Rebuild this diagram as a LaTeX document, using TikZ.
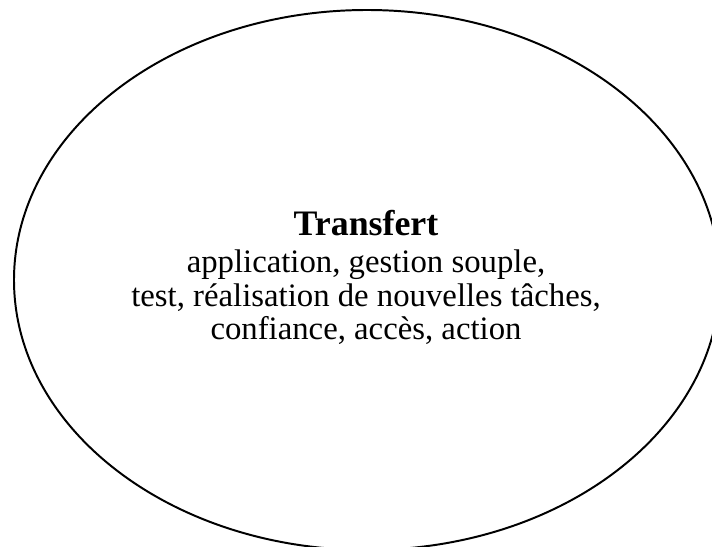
\documentclass[tikz,border=0pt]{standalone}
\usepackage{fontspec}
\setmainfont{Liberation Serif}
\usepackage{tikz}
\usetikzlibrary{shapes.geometric,positioning}
\tikzset{
  zone/.style  = { ellipse, draw=black, line width=1.4pt, inner sep=0pt },
  titre/.style = { font=\fontsize{25.5}{30}\selectfont\bfseries },
  liste/.style = { font=\fontsize{23.3}{23.9}\selectfont, align=center }
}
\begin{document}
\begin{tikzpicture}
  \useasboundingbox (0,0) rectangle (17.8,13.675);
  % Draw the ellipse
  \node[zone, minimum width=17.65cm, minimum height=13.5cm] (transfert) at (9.175,6.675) {};

  % Draw labels
  \node[titre] (titre) at (9.15,8.1) {Transfert};
  \node[liste, below=0.1cm of titre] (liste) {application, gestion souple,\\
    test, réalisation de nouvelles tâches,\\
    confiance, accès, action};
\end{tikzpicture}
\end{document}
